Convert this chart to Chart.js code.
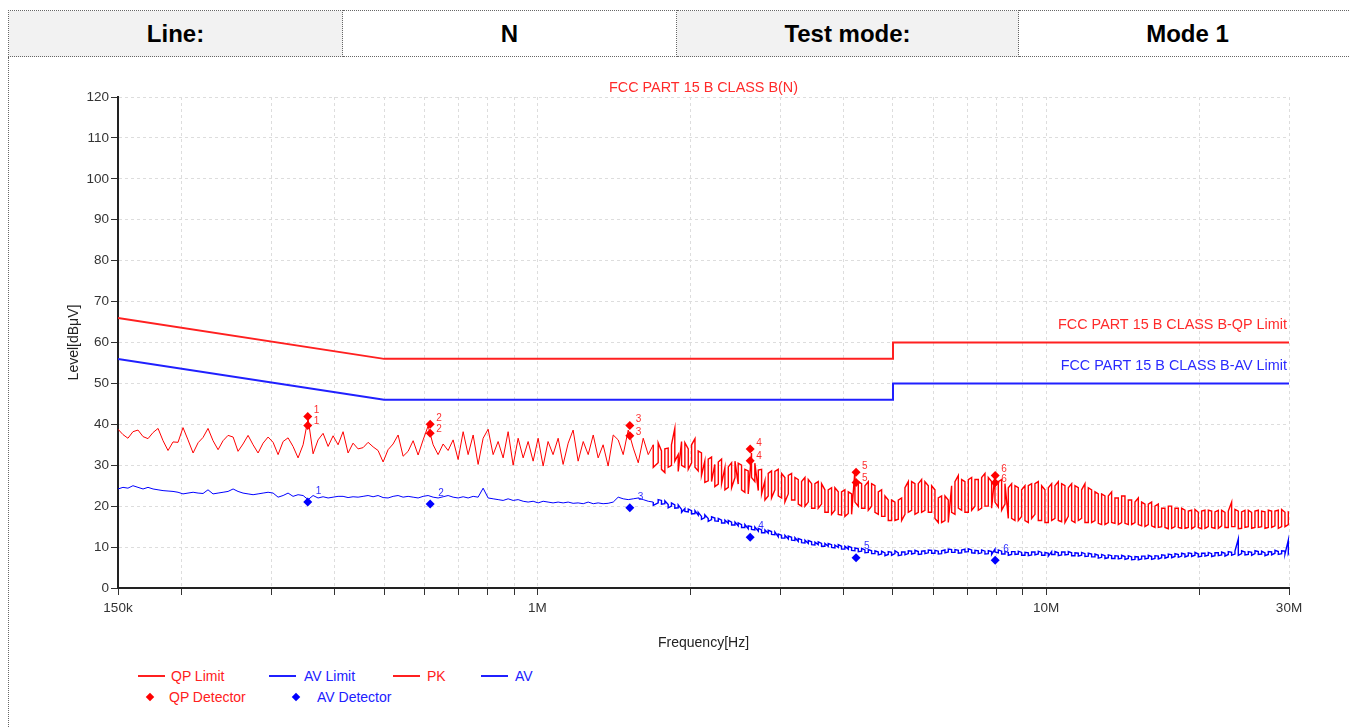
<!DOCTYPE html>
<html lang="en">
<head>
<meta charset="utf-8">
<title>Conducted Emission - Line N</title>
<script src="https://cdn.jsdelivr.net/npm/chart.js"></script>
<style>
	body{ margin:0; width:1350px; height:728px; overflow:hidden; background:#fff; font-family:"Liberation Sans", Arial, sans-serif;}
	.head_tbl{ position:absolute; left:8px; top:10px; width:1348px; height:47px; border-collapse:collapse; table-layout:fixed;}
	.head_tbl td{ border:1px dotted #666; text-align:center; font-weight:bold; font-size:24px; color:#000; padding:0;}
	.head_tbl td.gray{ background:#f2f2f2;}
	.frame{ position:absolute; left:8px; top:57px; width:1400px; height:700px; border-left:1px dotted #666;}
	#chart_div{ position:absolute; left:0; top:60px; width:1350px; height:600px;}
	.lg{ position:absolute; font-size:14px; line-height:16px; white-space:nowrap;}
	.lg_line{ position:absolute; height:2px; width:27px;}
	.lg_dia{ position:absolute; width:6px; height:6px; transform:rotate(45deg);}
</style>
</head>
<body>
	<table class="head_tbl">
		<colgroup>
			<col width="334"><col width="334"><col width="342"><col width="338">
		</colgroup>
		<tr>
			<td class="gray">Line:</td>
			<td>N</td>
			<td class="gray">Test mode:</td>
			<td>Mode 1</td>
		</tr>
	</table>
	<div class="frame"></div>

	<div id="chart_div">
		<canvas id="myChart" width="1350" height="600"></canvas>
	</div>

	<!-- legend -->
	<div class="lg_line" style="left:138px; top:675px; background:#ff2020;"></div>
	<div class="lg" style="left:171px; top:668px; color:#ff2020;">QP Limit</div>
	<div class="lg_line" style="left:269px; top:675px; background:#2020ff;"></div>
	<div class="lg" style="left:304px; top:668px; color:#2020ff;">AV Limit</div>
	<div class="lg_line" style="left:393px; top:675px; background:#ff2020;"></div>
	<div class="lg" style="left:427px; top:668px; color:#ff2020;">PK</div>
	<div class="lg_line" style="left:481px; top:675px; background:#2020ff;"></div>
	<div class="lg" style="left:515px; top:668px; color:#2020ff;">AV</div>
	<div class="lg_dia" style="left:147px; top:694px; background:#ff0000;"></div>
	<div class="lg" style="left:169px; top:689px; color:#ff2020;">QP Detector</div>
	<div class="lg_dia" style="left:293px; top:694px; background:#0000ff;"></div>
	<div class="lg" style="left:317px; top:689px; color:#2020ff;">AV Detector</div>
<script>

// scan frequencies (kHz)
const scanFreqKHz = [
	150, 153.4, 156.9, 160.5, 164.2, 168.0, 171.8, 175.8, 179.8, 183.9,
	188.1, 192.4, 196.8, 201.3, 205.9, 210.7, 215.5, 220.4, 225.4, 230.6,
	235.9, 241.3, 246.8, 252.5, 258.2, 264.1, 270.2, 276.4, 282.7, 289.2,
	295.8, 302.6, 309.5, 316.6, 323.8, 331.2, 338.8, 346.6, 354.5, 362.6,
	370.9, 379.4, 388.1, 397.0, 406.0, 415.3, 424.8, 434.5, 444.5, 454.7,
	465.1, 475.7, 486.6, 497.8, 509.1, 520.8, 532.7, 544.9, 557.4, 570.2,
	583.2, 596.6, 610.2, 624.2, 638.4, 653.1, 668.0, 683.3, 698.9, 715.0,
	731.3, 748.1, 765.1, 782.7, 800.5, 818.9, 837.6, 856.8, 876.4, 896.5,
	917.0, 938.0, 959.4, 981.4, 1003.8, 1026.8, 1050, 1074, 1099, 1124,
	1150, 1176, 1203, 1231, 1259, 1288, 1317, 1347, 1378, 1410,
	1442, 1475, 1509, 1544, 1579, 1615, 1652,
	// dense part of the sweep
	1690,
	1728, 1754, 1781, 1808, 1835, 1863, 1892, 1921, 1950, 1980, 2010, 2041,
	2071, 2102, 2134, 2167, 2200, 2233, 2268, 2302, 2337, 2373, 2409, 2446,
	2482, 2520, 2558, 2597, 2636, 2676, 2718, 2759, 2801, 2843, 2886, 2930,
	2975, 3020, 3066, 3113, 3160, 3208, 3257, 3306, 3357, 3408, 3460, 3512,
	3565, 3619, 3674, 3730, 3787, 3844, 3903, 3962, 4022, 4084, 4146, 4209,
	4273, 4338, 4404, 4471, 4539, 4608, 4678, 4749, 4821, 4894, 4968, 5044,
	5121, 5199, 5278, 5358, 5439, 5522, 5606, 5691, 5777, 5866, 5955, 6045,
	6137, 6230, 6325, 6421, 6519, 6618, 6719, 6821, 6924, 7030, 7137, 7245,
	7355, 7467, 7580, 7695, 7812, 7931, 8052, 8174, 8298, 8424, 8552, 8682,
	8814, 8948, 9084, 9222, 9362, 9504, 9649, 9795, 9944, 10096, 10249, 10405,
	10563, 10723, 10886, 11052, 11220, 11390, 11563, 11739, 11917, 12098, 12282, 12469,
	12658, 12850, 13045, 13244, 13445, 13649, 13858, 14068, 14282, 14499, 14719, 14943,
	15170, 15400, 15634, 15872, 16113, 16358, 16607, 16859, 17115, 17376, 17640, 17908,
	18180, 18456, 18736, 19022, 19311, 19604, 19902, 20204, 20511, 20823, 21139, 21460,
	21787, 22118, 22454, 22795, 23141, 23492, 23850, 24212, 24580, 24954, 25333, 25718,
	26109, 26505, 26908, 27317, 27732, 28153, 28582, 29016, 29457, 29905, 30000
];
const denseStart = 107;

// PK trace (dBuV)
const pkLevel = [
	38.8, 37.5, 36.6, 38.2, 38.6, 37.0, 36.5, 38.0, 39.0, 36.0,
	33.6, 35.7, 35.6, 39.2, 36.2, 33.0, 35.5, 36.8, 39.0, 36.0,
	33.8, 36.0, 37.3, 36.9, 33.4, 35.2, 37.3, 35.0, 33.0, 35.4,
	36.9, 35.6, 32.6, 35.8, 36.7, 34.6, 31.8, 35.0, 41.4, 32.8,
	36.2, 37.8, 34.6, 37.2, 35.0, 38.2, 33.0, 35.4, 34.0, 34.3,
	35.6, 34.5, 33.6, 30.8, 33.8, 35.2, 37.4, 32.2, 33.4, 36.0,
	32.5, 36.2, 39.6, 35.0, 32.6, 35.2, 33.6, 36.2, 31.4, 38.2,
	32.6, 37.4, 30.2, 36.6, 38.8, 32.6, 35.8, 31.8, 38.2, 30.0,
	36.6, 31.8, 35.8, 31.0, 36.6, 29.8, 35.8, 32.6, 36.6, 30.2,
	35.4, 38.6, 31.0, 35.8, 32.6, 37.4, 31.8, 35.0, 29.8, 37.4,
	36.2, 32.6, 38.6, 34.2, 30.6, 36.6, 32.6,
	35.0,
	30.6, 33.5, 28.2, 34.2, 30.0, 39.0, 32.6, 35.8, 29.5, 34.0, 30.6, 36.5,
	28.6, 33.0, 31.0, 26.2, 32.0, 30.2, 25.4, 31.5, 29.4, 24.6, 30.6, 27.0,
	25.4, 30.0, 23.4, 28.6, 33.0, 26.0, 23.8, 29.0, 26.2, 22.5, 28.6, 24.0,
	29.0, 22.0, 27.0, 23.0, 28.0, 21.5, 26.5, 20.0, 27.0, 21.0, 25.5, 19.5,
	26.0, 20.5, 24.0, 18.5, 24.5, 19.0, 23.5, 17.8, 24.0, 18.2, 23.0, 28.8,
	20.0, 25.5, 19.5, 26.0, 20.0, 25.0, 18.0, 24.0, 17.5, 21.5, 16.5, 21.0,
	16.8, 22.0, 18.0, 26.0, 19.0, 25.5, 18.5, 26.5, 19.0, 25.0, 18.5, 24.0,
	16.0, 22.5, 16.5, 21.5, 25.0, 18.0, 27.5, 19.0, 26.0, 18.5, 27.0, 20.0,
	26.5, 19.5, 28.0, 20.0, 26.0, 27.8, 19.8, 26.5, 20.5, 17.0, 25.5, 16.5,
	24.5, 17.5, 25.0, 16.0, 25.5, 18.0, 26.0, 16.5, 24.0, 16.0, 25.5, 17.0,
	26.0, 16.2, 25.0, 17.5, 25.5, 16.0, 24.5, 17.0, 25.5, 16.0, 24.0, 16.5,
	23.0, 15.5, 22.5, 16.0, 23.5, 15.8, 22.0, 16.0, 22.5, 15.5, 21.5, 16.0,
	22.0, 15.2, 20.5, 15.5, 21.0, 14.8, 20.5, 15.0, 19.5, 14.5, 20.0, 15.0,
	19.5, 14.6, 19.0, 14.8, 19.0, 15.0, 18.5, 14.5, 19.0, 15.0, 18.8, 14.6,
	19.0, 15.2, 18.5, 14.8, 21.0, 15.0, 18.8, 14.6, 19.0, 15.0, 18.5, 14.8,
	19.0, 15.0, 18.6, 14.8, 18.8, 15.2, 19.0, 15.0, 18.5, 15.5, 18.5
];
// PK other extreme of the band, dense part only
const pkAlt = [
	29.5,
	35.5, 29.0, 34.0, 29.5, 35.0, 31.0, 28.5, 30.0, 35.5, 29.0, 35.0, 29.5,
	33.5, 27.5, 25.8, 31.5, 26.0, 24.8, 30.8, 25.5, 24.0, 29.6, 24.5, 31.0,
	30.5, 24.0, 29.0, 23.0, 27.0, 30.5, 28.8, 23.0, 21.5, 28.0, 22.0, 28.5,
	22.5, 28.0, 21.0, 27.5, 21.5, 27.0, 20.5, 26.0, 20.0, 26.5, 19.5, 25.5,
	19.5, 25.5, 18.5, 24.0, 18.0, 24.5, 18.0, 23.5, 17.5, 23.5, 18.0, 21.0,
	26.0, 19.5, 25.0, 19.0, 25.5, 18.5, 23.5, 17.5, 22.5, 16.5, 21.5, 16.5,
	21.5, 16.5, 24.5, 18.5, 26.0, 18.0, 25.5, 18.5, 26.0, 18.5, 25.0, 17.0,
	22.0, 16.0, 22.5, 16.0, 18.5, 26.0, 19.5, 26.5, 18.5, 26.5, 19.0, 26.5,
	19.0, 27.0, 20.0, 27.0, 19.5, 21.0, 26.0, 19.0, 25.5, 24.5, 17.0, 25.0,
	16.5, 24.0, 16.5, 25.0, 17.0, 25.5, 16.5, 25.0, 16.0, 24.5, 16.5, 25.0,
	16.5, 25.5, 16.0, 24.5, 16.5, 25.0, 16.5, 24.0, 16.0, 24.5, 16.0, 23.5,
	15.8, 23.0, 15.5, 22.5, 16.0, 22.0, 15.5, 22.5, 15.8, 21.5, 15.5, 21.0,
	15.5, 21.0, 15.0, 20.5, 15.2, 20.0, 14.8, 19.5, 14.8, 20.0, 14.6, 19.5,
	14.8, 19.5, 14.6, 18.8, 14.5, 19.2, 14.8, 18.8, 14.6, 19.0, 14.8, 18.6,
	14.6, 19.0, 14.8, 18.8, 15.0, 19.2, 14.5, 18.6, 14.8, 19.0, 14.6, 18.8,
	14.8, 18.8, 14.6, 19.0, 14.8, 18.8, 14.6, 19.2, 15.0, 18.6, 16.0
];

// AV trace (dBuV)
const avLevel = [
	24.2, 24.6, 24.4, 25.0, 24.6, 24.2, 24.6, 24.2, 24.0, 23.8,
	23.7, 23.6, 23.4, 23.0, 23.2, 23.4, 23.2, 23.1, 24.0, 23.0,
	23.2, 23.4, 23.6, 24.2, 23.6, 23.2, 23.0, 22.8, 23.0, 23.2,
	23.4, 23.2, 22.2, 22.6, 23.2, 22.4, 22.8, 22.6, 21.6, 22.6,
	22.0, 22.3, 22.0, 22.2, 22.4, 22.4, 22.1, 22.3, 22.2, 22.4,
	22.6, 22.3, 22.6, 22.1, 22.0, 22.4, 22.6, 22.2, 22.4, 22.2,
	22.0, 22.4, 22.6, 22.2, 22.0, 22.3, 22.6, 22.2, 22.0, 22.3,
	22.0, 22.4, 22.2, 24.4, 22.0, 21.8, 21.6, 21.4, 21.8, 21.4,
	21.6, 21.2, 21.0, 21.2, 20.8, 21.2, 21.0, 20.8, 21.0, 20.8,
	21.0, 20.7, 20.8, 20.6, 21.0, 20.6, 20.8, 20.6, 20.7, 21.0,
	22.2, 21.8, 21.6, 21.8, 22.0, 21.6, 21.2,
	21.0,
	20.8, 21.4, 20.6, 20.4, 20.0, 20.3, 19.6, 19.2, 19.4, 18.6, 18.9, 18.2,
	17.8, 17.5, 17.2, 17.0, 16.7, 17.1, 16.3, 16.6, 15.9, 15.8, 16.1, 15.4,
	15.2, 15.5, 14.8, 14.5, 15.0, 14.2, 13.9, 14.2, 13.5, 13.4, 13.8, 13.0,
	12.5, 12.9, 12.2, 12.0, 12.4, 11.6, 11.4, 11.8, 11.0, 10.9, 11.3, 10.5,
	10.6, 10.9, 10.2, 10.2, 10.6, 9.8, 9.9, 10.2, 9.5, 9.5, 9.9, 9.1,
	9.6, 9.0, 9.3, 8.7, 9.1, 8.4, 8.8, 8.3, 8.6, 8.2, 8.7, 8.4,
	8.6, 8.1, 8.8, 8.4, 9.0, 8.5, 8.9, 8.3, 9.1, 8.6, 9.2, 8.5,
	9.0, 8.4, 9.3, 8.8, 9.4, 8.7, 9.2, 8.6, 9.5, 8.9, 9.3, 8.5,
	9.1, 8.6, 9.0, 8.4, 8.9, 9.5, 8.6, 9.0, 8.3, 8.7, 8.2, 8.9,
	8.3, 8.7, 8.0, 8.6, 8.1, 8.8, 8.3, 8.7, 8.0, 8.5, 8.9, 8.2,
	8.6, 8.1, 8.8, 8.2, 8.6, 7.9, 8.5, 8.0, 8.4, 7.8, 8.3, 7.6,
	8.0, 7.5, 7.9, 7.4, 7.9, 7.2, 7.8, 7.3, 7.7, 7.2, 7.6, 7.0,
	7.6, 7.1, 7.8, 7.3, 7.7, 7.2, 7.8, 7.4, 8.0, 7.6, 8.1, 7.7,
	8.2, 7.8, 8.3, 7.9, 8.4, 8.0, 8.3, 7.8, 8.5, 8.0, 8.4, 7.9,
	8.6, 8.1, 8.5, 8.2, 8.7, 8.3, 12.0, 8.4, 8.8, 8.2, 8.7, 8.4,
	8.9, 8.3, 8.6, 8.2, 8.8, 8.5, 8.9, 8.4, 9.0, 11.7, 8.6
];
// AV other extreme of the band, dense part only
const avAlt = [
	20.2,
	21.6, 20.5, 21.3, 19.6, 20.8, 19.5, 20.3, 18.5, 18.7, 19.3, 18.1, 18.9,
	18.5, 16.8, 17.9, 16.3, 17.4, 16.4, 17.0, 15.9, 16.6, 16.5, 15.4, 16.1,
	15.9, 14.8, 15.5, 15.2, 14.3, 14.9, 14.6, 13.5, 14.2, 14.1, 13.1, 13.7,
	13.2, 12.2, 12.9, 12.7, 11.7, 12.3, 12.1, 11.1, 11.7, 11.6, 10.6, 11.2,
	11.3, 10.2, 10.9, 10.9, 9.9, 10.5, 10.6, 9.5, 10.2, 10.2, 9.2, 9.8,
	8.9, 9.7, 8.6, 9.4, 8.4, 9.1, 8.1, 9.0, 7.9, 8.9, 8.0, 9.1,
	7.9, 8.8, 8.1, 9.1, 8.3, 9.2, 8.2, 9.0, 8.4, 9.3, 8.5, 9.2,
	8.3, 9.1, 8.6, 9.5, 8.7, 9.4, 8.5, 9.3, 8.8, 9.6, 8.6, 9.2,
	8.4, 9.3, 8.3, 9.1, 8.2, 8.8, 9.3, 8.3, 9.0, 8.0, 8.9, 8.2,
	9.0, 8.0, 8.7, 7.9, 8.8, 8.1, 9.0, 8.0, 8.7, 7.8, 8.2, 8.9,
	7.9, 8.8, 8.1, 8.9, 7.9, 8.6, 7.8, 8.7, 7.7, 8.5, 7.6, 8.3,
	7.3, 8.2, 7.2, 8.1, 7.2, 7.9, 7.1, 8.0, 7.0, 7.9, 6.9, 7.7,
	6.9, 7.8, 7.1, 8.0, 7.0, 7.9, 7.1, 8.1, 7.3, 8.3, 7.4, 8.4,
	7.5, 8.5, 7.6, 8.6, 7.7, 8.7, 7.6, 8.5, 7.8, 8.7, 7.7, 8.6,
	7.9, 8.8, 7.8, 8.9, 8.0, 9.0, 8.0, 9.1, 8.1, 8.9, 8.0, 9.1,
	8.2, 9.0, 7.9, 8.9, 8.1, 9.2, 8.2, 9.1, 8.3, 8.3, 9.2
];

// limits
const limitFreqKHz = [150, 500, 5000, 5000, 30000];
const qpLimitLevel = [66, 56, 56, 60, 60];
const avLimitLevel = [56, 46, 46, 50, 50];

// detector markers
const markerFreqKHz = [354, 616, 1520, 2620, 4230, 7940];
const qpMarkHigh = [41.9, 40.0, 39.7, 34.0, 28.3, 27.5];
const qpMarkLow = [39.7, 37.8, 37.2, 31.1, 25.8, 25.7];
const avMark = [21.0, 20.5, 19.6, 12.4, 7.4, 6.8];

// axis ticks
const xTickKHz = [150, 200, 300, 400, 500, 600, 700, 800, 900,
	1000, 2000, 3000, 4000, 5000, 6000, 7000, 8000, 9000, 10000, 20000, 30000];
const xTickText = {150: '150k', 1000: '1M', 10000: '10M', 30000: '30M'};

function pts(xs, ys){
	return xs.map(function(v, i){ return {x: v, y: ys[i]}; });
}

// 스윕 데이터 (dense 구간은 band 양끝값 둘 다)
function tracePts(level, alt){
	let out = [];
	for(let i = 0; i < scanFreqKHz.length; i++){
		out.push({x: scanFreqKHz[i], y: level[i]});
		if(i >= denseStart){
			out.push({x: scanFreqKHz[i], y: alt[i - denseStart]});
		}
	}
	return out;
}

// dense 구간은 선을 약간 두껍게
function denseWidth(ctx){
	return ctx.p0.parsed.x >= scanFreqKHz[denseStart] ? 1.4 : 1;
}

let qpDetPts = pts(markerFreqKHz, qpMarkHigh).concat(pts(markerFreqKHz, qpMarkLow));

//텍스트 (제목, 리밋 라벨, 마커 번호)
const textPlugin = {
	id: 'texts',
	afterDatasetsDraw(chart){
		const ctx = chart.ctx, xs = chart.scales.x, ys = chart.scales.y, ca = chart.chartArea;
		ctx.save();
		ctx.font = '14.4px "Liberation Sans", Arial, sans-serif';
		ctx.textBaseline = 'middle';
		ctx.textAlign = 'center';
		ctx.fillStyle = '#ff2a2a';
		ctx.fillText('FCC PART 15 B CLASS B(N)', (ca.left + ca.right) / 2, ca.top - 9);
		ctx.textAlign = 'right';
		ctx.fillText('FCC PART 15 B CLASS B-QP Limit', ca.right - 2, ys.getPixelForValue(qpLimitLevel[4]) - 17);
		ctx.fillStyle = '#2a2aff';
		ctx.fillText('FCC PART 15 B CLASS B-AV Limit', ca.right - 2, ys.getPixelForValue(avLimitLevel[4]) - 17);

		ctx.font = '10px "Liberation Sans", Arial, sans-serif';
		ctx.textAlign = 'left';
		for(let i = 0; i < markerFreqKHz.length; i++){
			const px = xs.getPixelForValue(markerFreqKHz[i]);
			ctx.fillStyle = '#ff3030';
			ctx.fillText(String(i + 1), px + 6, ys.getPixelForValue(qpMarkHigh[i]) - 6);
			ctx.fillText(String(i + 1), px + 6, ys.getPixelForValue(qpMarkLow[i]) - 4);
			ctx.fillStyle = '#3030ff';
			ctx.fillText(String(i + 1), px + 8, ys.getPixelForValue(avMark[i]) - 11);
		}
		ctx.restore();
	}
};

const gridOpt = { color: '#dddddd', tickColor: '#333333', tickLength: 7, tickBorderDash: [], lineWidth: 1 };
const borderOpt = { color: '#222222', width: 2, dash: [3, 3] };
const fontFam = '"Liberation Sans", Arial, sans-serif';

const config = {
	type: 'line',
	data: {
		datasets: [
			{ label: 'QP Detector', data: qpDetPts, showLine: false, pointStyle: 'rectRot', pointRadius: 4.5,
			  backgroundColor: '#ff0000', borderColor: '#ff0000', borderWidth: 0 },
			{ label: 'AV Detector', data: pts(markerFreqKHz, avMark), showLine: false, pointStyle: 'rectRot', pointRadius: 4.5,
			  backgroundColor: '#0000ff', borderColor: '#0000ff', borderWidth: 0 },
			{ label: 'QP Limit', data: pts(limitFreqKHz, qpLimitLevel), borderColor: '#ff2020', borderWidth: 2, pointRadius: 0 },
			{ label: 'AV Limit', data: pts(limitFreqKHz, avLimitLevel), borderColor: '#2020ff', borderWidth: 2, pointRadius: 0 },
			{ label: 'AV', data: tracePts(avLevel, avAlt), borderColor: '#0000ff', borderWidth: 1, pointRadius: 0,
			  segment: { borderWidth: denseWidth } },
			{ label: 'PK', data: tracePts(pkLevel, pkAlt), borderColor: '#ff0000', borderWidth: 1, pointRadius: 0,
			  segment: { borderWidth: denseWidth } }
		]
	},
	options: {
		responsive: false,
		animation: false,
		events: [],
		layout: { padding: { left: 62, right: 61, top: 37, bottom: 4 } },
		plugins: { legend: { display: false }, tooltip: { enabled: false } },
		scales: {
			x: {
				type: 'logarithmic', min: 150, max: 30000,
				afterBuildTicks(scale){ scale.ticks = xTickKHz.map(function(v){ return {value: v}; }); },
				afterFit(scale){ scale.height = 68; },
				ticks: { autoSkip: false, maxRotation: 0, padding: 5, color: '#333',
					font: { family: fontFam, size: 13.5 },
					callback: function(v){ return xTickText[v] || ''; } },
				grid: gridOpt,
				border: borderOpt,
				title: { display: true, text: 'Frequency[Hz]', color: '#222',
					font: { family: fontFam, size: 14 }, padding: { top: 4, bottom: 4 } }
			},
			y: {
				min: 0, max: 120,
				afterFit(scale){ scale.width = 56; },
				ticks: { stepSize: 10, padding: 2, color: '#333',
					font: { family: fontFam, size: 13.5 } },
				grid: gridOpt,
				border: borderOpt,
				title: { display: true, text: 'Level[dBμV]', color: '#222',
					font: { family: fontFam, size: 14 }, padding: { top: 4, bottom: 4 } }
			}
		}
	},
	plugins: [textPlugin]
};

var myChart = new Chart(document.getElementById('myChart'), config);

</script>
</body>
</html>
